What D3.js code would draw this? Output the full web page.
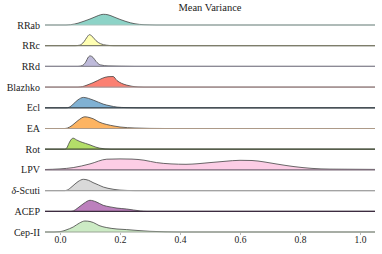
<!DOCTYPE html>
<html>
<head>
<meta charset="utf-8">
<script src="https://cdn.jsdelivr.net/npm/d3@7"></script>
<style>
  body { margin: 0; background: #fff; }
  text { font-family: "Liberation Serif", "DejaVu Serif", serif; fill: #222; }
</style>
</head>
<body>
<div class="ridge"></div>
<script>
// classes, top to bottom
var classes = ["RRab", "RRc", "RRd", "Blazhko", "Ecl", "EA", "Rot", "LPV", "\u03b4-Scuti", "ACEP", "Cep-II"];

// density curves: [mean variance, density]
var RRab = [[-0.05,0],[0.02,0],[0.035,0.3],[0.06,1.8],[0.08,3.8],[0.10,6],[0.12,8.5],[0.135,10.2],[0.145,10.7],[0.16,10.2],[0.18,8],[0.2,5.6],[0.22,3.5],[0.25,1.2],[0.28,0.3],[0.32,0],[1.05,0]];
var RRc = [[-0.05,0],[0.05,0],[0.065,0.5],[0.08,4],[0.09,8.5],[0.098,11],[0.11,8.5],[0.12,5],[0.135,2],[0.155,0.5],[0.18,0],[1.05,0]];
var RRd = [[-0.05,0],[0.06,0],[0.075,1],[0.085,4],[0.095,9.5],[0.10,10.5],[0.11,9],[0.12,5],[0.135,1.5],[0.16,0.5],[0.2,0.2],[0.25,0],[1.05,0]];
var Blazhko = [[-0.05,0],[0.06,0],[0.075,0.5],[0.09,2],[0.11,4.4],[0.125,6.5],[0.14,8.7],[0.16,10.4],[0.177,10.6],[0.19,6.5],[0.205,3.8],[0.222,2],[0.24,0.8],[0.26,0.2],[0.28,0],[1.05,0]];
var Ecl = [[-0.05,0],[0.02,0],[0.03,0.5],[0.045,4],[0.06,8],[0.078,10.4],[0.095,9.4],[0.111,7.7],[0.128,5.6],[0.144,3.7],[0.167,2],[0.19,0.7],[0.22,0.2],[0.26,0],[1.05,0]];
var EA = [[-0.05,0],[0.015,0],[0.025,0.5],[0.04,3],[0.06,8],[0.083,11.7],[0.1,10.8],[0.111,9.7],[0.13,6.5],[0.156,4],[0.18,2.5],[0.2,1.5],[0.25,0.5],[0.3,0.1],[0.35,0],[1.05,0]];
var Rot = [[-0.05,0],[0.015,0],[0.022,1],[0.03,6],[0.038,10],[0.044,11],[0.055,9.3],[0.067,7.6],[0.085,5.8],[0.1,4.3],[0.12,2],[0.133,1],[0.15,0.3],[0.17,0],[1.05,0]];
var LPV = [[-0.05,0.4],[0.0,1],[0.044,2.3],[0.1,6],[0.156,10.7],[0.2,11],[0.24,10.8],[0.28,9.7],[0.322,7.3],[0.37,6],[0.42,5.6],[0.46,6.2],[0.5,7.3],[0.55,8.6],[0.6,9.6],[0.64,9.4],[0.68,8],[0.72,6],[0.78,3.3],[0.84,1.5],[0.9,0.8],[1.05,0.5]];
var DSct = [[-0.05,0],[0.015,0],[0.024,0.5],[0.04,4],[0.06,9],[0.078,11.3],[0.095,10.3],[0.11,8],[0.128,5.7],[0.145,3.5],[0.16,2.3],[0.18,1.2],[0.2,0.5],[0.25,0],[1.05,0]];
var ACEP = [[-0.05,0],[0.035,0],[0.045,0.5],[0.06,3.5],[0.08,8],[0.1,11],[0.12,9.5],[0.144,6],[0.167,4.4],[0.19,3.2],[0.222,2.3],[0.245,1.3],[0.267,0.4],[0.29,0],[1.05,0]];
var CepII = [[-0.05,0],[-0.02,0],[0.0,0.3],[0.02,2],[0.044,5],[0.065,9],[0.083,11],[0.1,10.5],[0.111,9.5],[0.13,6.5],[0.156,4.4],[0.19,3],[0.222,2.4],[0.26,1.5],[0.3,0.7],[0.35,0.2],[0.4,0],[1.05,0]];

var densities = [RRab, RRc, RRd, Blazhko, Ecl, EA, Rot, LPV, DSct, ACEP, CepII];
var ticks = [0.0, 0.2, 0.4, 0.6, 0.8, 1.0];

var fills = d3.schemeSet3;
var baseColors = ["#a9c2bb", "#7d7d6a", "#8c8a96", "#a99090", "#2e3a42", "#ad9a88",
                  "#3f4a30", "#7a6a78", "#a3a3a3", "#3d2c40", "#9aa596"];

var width = 382, height = 254;

var svg = d3.select(".ridge").append("svg")
    .attr("width", width)
    .attr("height", height);

var x = d3.scaleLinear().domain([-0.05, 1.05]).range([45, 375]);
var row = d3.scalePoint().domain(classes).range([25, 232]);
var h = d3.scaleLinear().domain([0, 11]).range([0, 11]);

var g = svg.selectAll("g.row")
    .data(classes)
    .enter()
    .append("g")
    .attr("class", "row")
    .attr("transform", function(d) { return "translate(0," + row(d) + ")"; });

var area = d3.area()
    .x(function(d) { return x(d[0]); })
    .y0(0)
    .y1(function(d) { return -h(d[1]); })
    .curve(d3.curveMonotoneX);

var line = d3.line()
    .x(function(d) { return x(d[0]); })
    .y(function(d) { return -h(d[1]); })
    .curve(d3.curveMonotoneX);

g.append("path")
    .attr("d", function(d, i) { return area(densities[i]); })
    .attr("fill", function(d, i) { return fills[i]; });

g.append("path")
    .attr("d", function(d, i) { return line(densities[i]); })
    .attr("fill", "none")
    .attr("stroke", "#444")
    .attr("stroke-width", 0.8);

//baseline
g.append("line")
    .attr("x1", x(-0.05))
    .attr("x2", x(1.05))
    .attr("y1", 0)
    .attr("y2", 0)
    .attr("stroke", function(d, i) { return baseColors[i]; })
    .attr("stroke-width", 1.2);

// row labels, the delta set in italic like a math symbol
var label = g.append("text")
    .attr("x", 40)
    .attr("y", 0)
    .attr("dy", "0.35em")
    .attr("text-anchor", "end")
    .style("font-size", "10px");

label.each(function(d) {
    var t = d3.select(this);
    if (d.charAt(0) === "\u03b4") {
        t.append("tspan").style("font-style", "italic").text("\u03b4");
        t.append("tspan").text(d.slice(1));
    } else {
        t.text(d);
    }
});

var xAxis = d3.axisBottom(x)
    .tickValues(ticks)
    .tickFormat(d3.format(".1f"))
    .tickSize(2)
    .tickSizeOuter(0);

var ax = svg.append("g")
    .attr("transform", "translate(0," + (row("Cep-II") + 1) + ")")
    .call(xAxis);
ax.select(".domain").remove();
ax.selectAll(".tick line").attr("stroke", "#888").attr("stroke-width", 0.6);
ax.selectAll(".tick text")
    .attr("y", 3)
    .style("font-family", "'Liberation Serif', serif")
    .style("font-size", "9.5px")
    .attr("fill", "#222");

svg.append("text")
    .attr("x", 210)
    .attr("y", 11)
    .attr("text-anchor", "middle")
    .style("font-size", "10.5px")
    .text("Mean Variance");
</script>
</body>
</html>
